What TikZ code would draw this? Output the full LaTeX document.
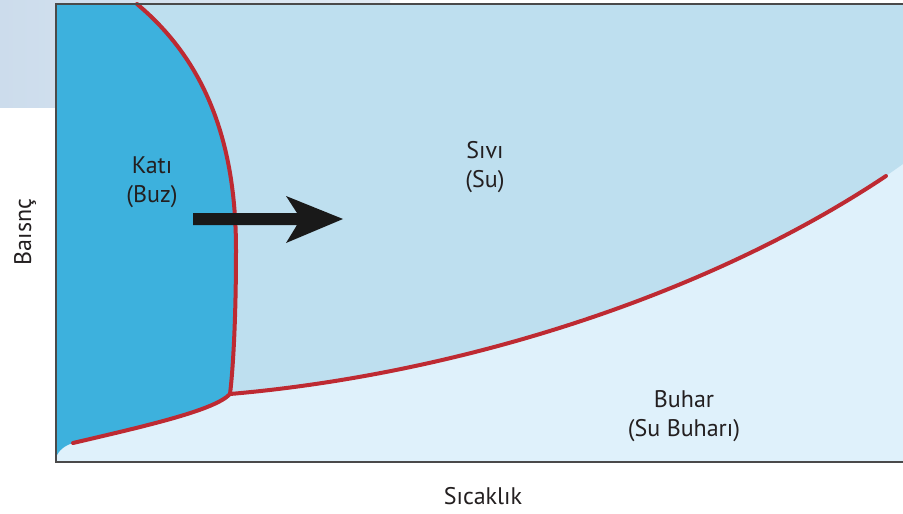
\documentclass[tikz,border=0pt]{standalone}
\usepackage{fontspec}
\setmainfont{PT Sans}
\definecolor{icecol}{HTML}{3DB1DD}
\definecolor{liquidcol}{HTML}{BEDFEF}
\definecolor{vaporcol}{HTML}{DFF1FB}
\definecolor{phasecol}{HTML}{BE2A32}
\definecolor{framecol}{HTML}{4A4A4A}
\definecolor{txtcol}{HTML}{231F20}
\definecolor{decoA}{HTML}{CCDCEC}
\definecolor{decoB}{HTML}{E2EBF4}
\begin{document}
\begin{tikzpicture}[x=1pt,y=-1pt,
  lbl/.style={text=txtcol,font=\fontsize{24}{29}\selectfont,align=center,inner sep=0pt},
  curve/.style={draw=phasecol,line width=4pt,line cap=round}]
\useasboundingbox (0,0) rectangle (903,514);
\fill[white] (0,0) rectangle (903,514);
% blurred decoration top-left
\shade[left color=decoA,right color=decoB] (0,0) rectangle (390,107);
% named points
\coordinate (tl) at (56,4);
\coordinate (tr) at (903,4);
\coordinate (bl) at (56,462);
\coordinate (br) at (903,462);
\coordinate (mtop) at (137,4);
\coordinate (tp) at (230,394);
\coordinate (send) at (73,443);
\coordinate (vend) at (886,176);
\coordinate (redge) at (903,164);
% vapor
\fill[vaporcol] (tl) rectangle (br);
% liquid
\fill[liquidcol] (mtop) .. controls (210,65) and (236,150) .. (236,250)
  .. controls (236,320) and (233,370) .. (tp)
  .. controls (450,375) and (700,300) .. (vend) -- (redge) -- (tr) -- cycle;
% ice
\fill[icecol] (tl) -- (mtop) .. controls (210,65) and (236,150) .. (236,250)
  .. controls (236,320) and (233,370) .. (tp)
  .. controls (215,410) and (150,425) .. (send)
  .. controls (66,445) and (58,450) .. (56,458) -- cycle;
% phase boundaries
\draw[curve] (mtop) .. controls (210,65) and (236,150) .. (236,250)
  .. controls (236,320) and (233,370) .. (tp);
\draw[curve] (tp) .. controls (215,410) and (150,425) .. (send);
\draw[curve] (tp) .. controls (450,375) and (700,300) .. (vend);
% frame
\draw[framecol,line width=1.8pt] (tr) -- (tl) -- (bl) -- (br);
% arrow
\fill[black!90] (193,213) -- (297,213) -- (286,196) -- (343,219) -- (286,243) -- (297,225) -- (193,225) -- cycle;
% labels
\node[lbl] (icelbl) at (152,182) {Katı\\(Buz)};
\node[lbl] (liqlbl) at (485,167) {Sıvı\\(Su)};
\node[lbl] (vaplbl) at (684,416) {Buhar\\(Su Buharı)};
\node[lbl,rotate=90] (ylbl) at (25,232) {Baısnç};
\node[lbl] (xlbl) at (483,496) {Sıcaklık};
\end{tikzpicture}
\end{document}
